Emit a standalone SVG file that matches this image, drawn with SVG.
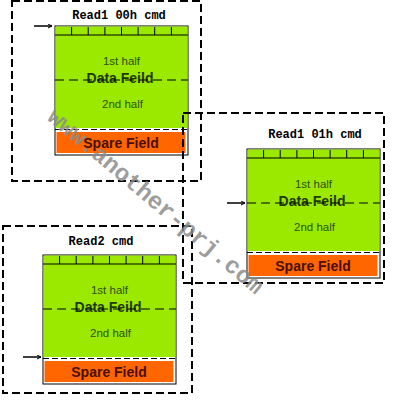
<svg xmlns="http://www.w3.org/2000/svg" width="400" height="400" viewBox="0 0 400 400">
<defs>
<style>
.frame{fill:none;stroke:#000;stroke-width:2;stroke-dasharray:8 4}
.title{font-family:"Liberation Mono",monospace;font-weight:bold;font-size:12px;fill:#000;text-anchor:middle}
.outer{fill:#fff;stroke:#000;stroke-width:1}
.green{fill:#9be800}
.orange{fill:#ff6600}
.hl{stroke:#000;stroke-width:1;fill:none}
.dash{stroke:#000;stroke-width:1;stroke-dasharray:9 5;fill:none}
.dash2{stroke:#000;stroke-width:1;stroke-dasharray:6 3;fill:none}
.half{font-family:"Liberation Sans",Arial,sans-serif;font-size:11.5px;fill:#2d5200;text-anchor:middle}
.data{font-family:"Liberation Sans",Arial,sans-serif;font-weight:bold;font-size:14px;fill:#1f3a00;text-anchor:middle}
.spare{font-family:"Liberation Sans",Arial,sans-serif;font-weight:bold;font-size:14px;fill:#4a0e00;text-anchor:middle}
.arrow{stroke:#000;stroke-width:1.5;fill:none;marker-end:url(#ah)}
.wm{font-family:"Liberation Mono",monospace;font-weight:bold;font-size:24px;fill:#8c8c8c;fill-opacity:0.85}
</style>
<marker id="ah" viewBox="0 0 10 10" refX="9" refY="5" markerWidth="5" markerHeight="5" orient="auto" markerUnits="userSpaceOnUse">
<path d="M1,1 L9,5 L1,9" fill="none" stroke="#000" stroke-width="2"/>
</marker>
<g id="blk">
<rect class="outer" x="0" y="0" width="133" height="129"/>
<rect class="green" x="0.5" y="0.5" width="132" height="101.5"/>
<line class="hl" x1="0" y1="9" x2="133" y2="9"/>
<path class="hl" d="M16.6,1V9M33.2,1V9M49.9,1V9M66.5,1V9M83.1,1V9M99.7,1V9M116.4,1V9"/>
<rect class="orange" x="1.5" y="106" width="129" height="21"/>
<text class="half" x="66.5" y="39">1st half</text>
<text class="data" x="65" y="57">Data Feild</text>
<line class="dash" x1="0" y1="54" x2="133" y2="54"/>
<text class="half" x="67.5" y="82">2nd half</text>
<line class="dash2" x1="0" y1="103.5" x2="133" y2="103.5"/>
<text class="spare" x="66" y="122">Spare Field</text>
</g>
</defs>
<g id="read1-00h">
<use href="#blk" x="55" y="26"/>
<text class="title" x="119" y="19">Read1 00h cmd</text>
</g>
<g id="read1-01h">
<use href="#blk" x="247" y="149"/>
<text class="title" x="315" y="138">Read1 01h cmd</text>
</g>
<g id="read2">
<use href="#blk" x="43" y="255"/>
<text class="title" x="101" y="245">Read2 cmd</text>
</g>
<g id="frames">
<rect class="frame" x="12" y="1" width="189" height="180"/>
<rect class="frame" x="183" y="113" width="201" height="170"/>
<rect class="frame" x="3" y="226" width="189" height="167"/>
</g>
<g id="connectors">
<line class="arrow" x1="34" y1="26" x2="52" y2="26"/>
<line class="arrow" x1="227" y1="203" x2="245" y2="203"/>
<line class="arrow" x1="23" y1="357" x2="41" y2="357"/>
</g>
<text class="wm" x="46" y="119" transform="rotate(40 46 119)">www.another-prj.com</text>
</svg>
